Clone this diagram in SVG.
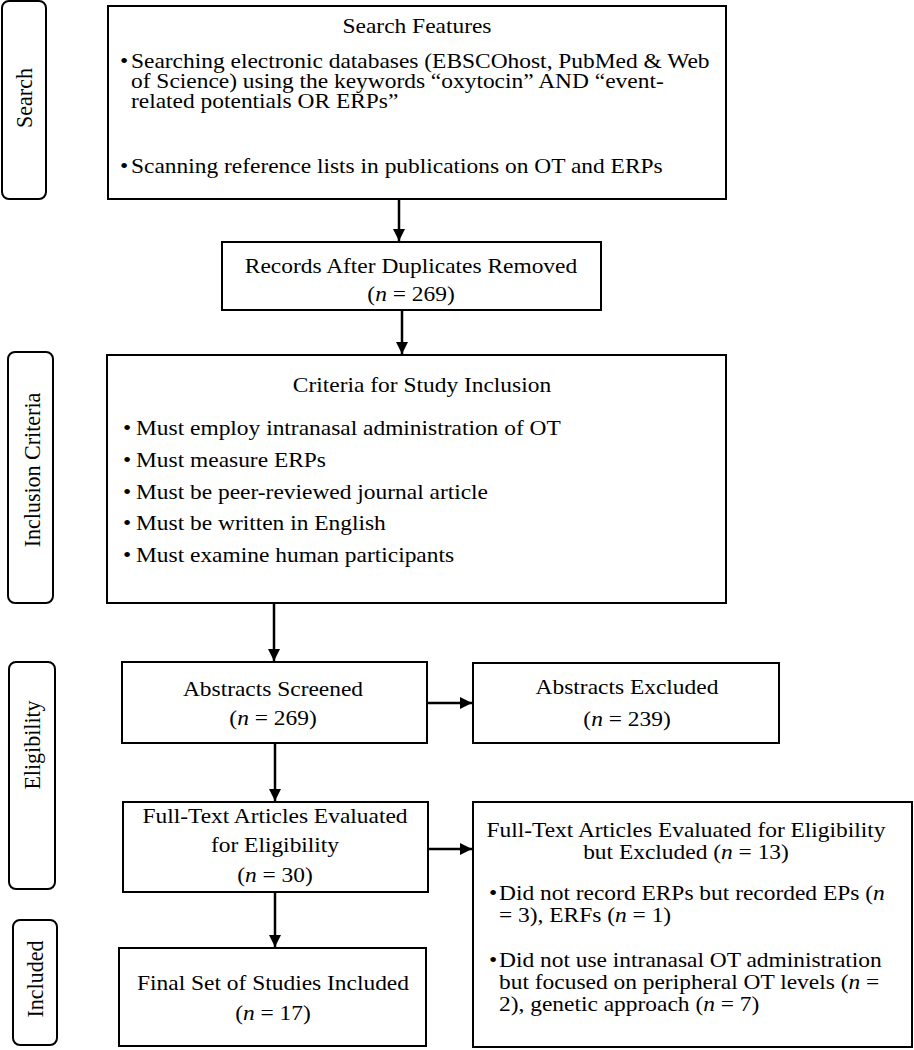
<svg xmlns="http://www.w3.org/2000/svg" width="914" height="1050" viewBox="0 0 914 1050">
<style>
.box{fill:#fff;stroke:#000;stroke-width:2}
.lab{fill:#fff;stroke:#000;stroke-width:2}
text{font-family:"Liberation Serif","Times New Roman",serif;font-size:22px;fill:#000}
.c{text-anchor:middle}
.i{font-style:italic}
.conn line{stroke:#000;stroke-width:2.5}
</style>
<defs>
<marker id="ah" viewBox="0 0 10 10" refX="10" refY="5" markerWidth="12" markerHeight="12" markerUnits="userSpaceOnUse" orient="auto">
<path d="M0,0 L10,5 L0,10 z" fill="#000"/>
</marker>
</defs>

<g id="label-search">
<rect class="lab" x="2" y="1" width="44" height="198" rx="7"/>
<text class="c" transform="translate(31.5,98) rotate(-90) scale(1,1.065)">Search</text>
</g>
<g id="label-inclusion">
<rect class="lab" x="8" y="352" width="45" height="251" rx="7"/>
<text class="c" transform="translate(40,470) rotate(-90) scale(1,1.065)">Inclusion Criteria</text>
</g>
<g id="label-eligibility">
<rect class="lab" x="9" y="662" width="46" height="227" rx="7"/>
<text class="c" transform="translate(40,745) rotate(-90) scale(1,1.065)">Eligibility</text>
</g>
<g id="label-included">
<rect class="lab" x="13" y="920" width="44" height="125" rx="7"/>
<text class="c" transform="translate(42.5,979) rotate(-90) scale(1,1.065)">Included</text>
</g>

<g id="search-features">
<rect class="box" x="108" y="6" width="618" height="193"/>
<text class="c" transform="translate(417,33) scale(1.065,1)">Search Features</text>
<text transform="translate(120,68) scale(1.065,1)">•</text>
<text transform="translate(131,68) scale(1.065,1)">Searching electronic databases (EBSCOhost, PubMed &amp; Web</text>
<text transform="translate(131,88) scale(1.065,1)">of Science) using the keywords “oxytocin” AND “event-</text>
<text transform="translate(131,108) scale(1.065,1)">related potentials OR ERPs”</text>
<text transform="translate(120,173) scale(1.065,1)">•</text>
<text transform="translate(131,173) scale(1.065,1)">Scanning reference lists in publications on OT and ERPs</text>
</g>

<g id="records">
<rect class="box" x="222" y="242" width="379" height="68"/>
<text class="c" transform="translate(411,273) scale(1.065,1)">Records After Duplicates Removed</text>
<text class="c" transform="translate(411,301) scale(1.065,1)">(<tspan class="i">n</tspan> = 269)</text>
</g>

<g id="criteria">
<rect class="box" x="107" y="355" width="619" height="248"/>
<text class="c" transform="translate(422,392) scale(1.065,1)">Criteria for Study Inclusion</text>
<text transform="translate(123,435) scale(1.065,1)">•</text><text transform="translate(136,435) scale(1.065,1)">Must employ intranasal administration of OT</text>
<text transform="translate(123,467) scale(1.065,1)">•</text><text transform="translate(136,467) scale(1.065,1)">Must measure ERPs</text>
<text transform="translate(123,499) scale(1.065,1)">•</text><text transform="translate(136,499) scale(1.065,1)">Must be peer-reviewed journal article</text>
<text transform="translate(123,530) scale(1.065,1)">•</text><text transform="translate(136,530) scale(1.065,1)">Must be written in English</text>
<text transform="translate(123,562) scale(1.065,1)">•</text><text transform="translate(136,562) scale(1.065,1)">Must examine human participants</text>
</g>

<g id="abstracts-screened">
<rect class="box" x="122" y="662" width="305" height="81"/>
<text class="c" transform="translate(273,696) scale(1.065,1)">Abstracts Screened</text>
<text class="c" transform="translate(273,725) scale(1.065,1)">(<tspan class="i">n</tspan> = 269)</text>
</g>

<g id="abstracts-excluded">
<rect class="box" x="473" y="663" width="306" height="80"/>
<text class="c" transform="translate(627,694) scale(1.065,1)">Abstracts Excluded</text>
<text class="c" transform="translate(627,726) scale(1.065,1)">(<tspan class="i">n</tspan> = 239)</text>
</g>

<g id="fulltext">
<rect class="box" x="123" y="802" width="305" height="90"/>
<text class="c" transform="translate(275,823) scale(1.065,1)">Full-Text Articles Evaluated</text>
<text class="c" transform="translate(275,852) scale(1.065,1)">for Eligibility</text>
<text class="c" transform="translate(275,882) scale(1.065,1)">(<tspan class="i">n</tspan> = 30)</text>
</g>

<g id="fulltext-excluded">
<rect class="box" x="473" y="802" width="439" height="245"/>
<text class="c" transform="translate(686,837) scale(1.065,1)">Full-Text Articles Evaluated for Eligibility</text>
<text class="c" transform="translate(686,859) scale(1.065,1)">but Excluded (<tspan class="i">n</tspan> = 13)</text>
<text transform="translate(489,900) scale(1.065,1)">•</text><text transform="translate(499,900) scale(1.065,1)">Did not record ERPs but recorded EPs (<tspan class="i">n</tspan></text>
<text transform="translate(499,922) scale(1.065,1)">= 3), ERFs (<tspan class="i">n</tspan> = 1)</text>
<text transform="translate(489,967) scale(1.065,1)">•</text><text transform="translate(499,967) scale(1.065,1)">Did not use intranasal OT administration</text>
<text transform="translate(499,989) scale(1.065,1)">but focused on peripheral OT levels (<tspan class="i">n</tspan> =</text>
<text transform="translate(499,1011) scale(1.065,1)">2), genetic approach (<tspan class="i">n</tspan> = 7)</text>
</g>

<g id="final">
<rect class="box" x="119" y="948" width="307" height="98"/>
<text class="c" transform="translate(273,990) scale(1.065,1)">Final Set of Studies Included</text>
<text class="c" transform="translate(273,1020) scale(1.065,1)">(<tspan class="i">n</tspan> = 17)</text>
</g>

<g id="connectors" class="conn">
<line x1="399" y1="199" x2="399" y2="241" marker-end="url(#ah)"/>
<line x1="402" y1="310" x2="402" y2="354" marker-end="url(#ah)"/>
<line x1="274" y1="603" x2="274" y2="661" marker-end="url(#ah)"/>
<line x1="427" y1="703" x2="472" y2="703" marker-end="url(#ah)"/>
<line x1="275" y1="743" x2="275" y2="801" marker-end="url(#ah)"/>
<line x1="428" y1="849" x2="472" y2="849" marker-end="url(#ah)"/>
<line x1="275" y1="892" x2="275" y2="947" marker-end="url(#ah)"/>
</g>
</svg>
